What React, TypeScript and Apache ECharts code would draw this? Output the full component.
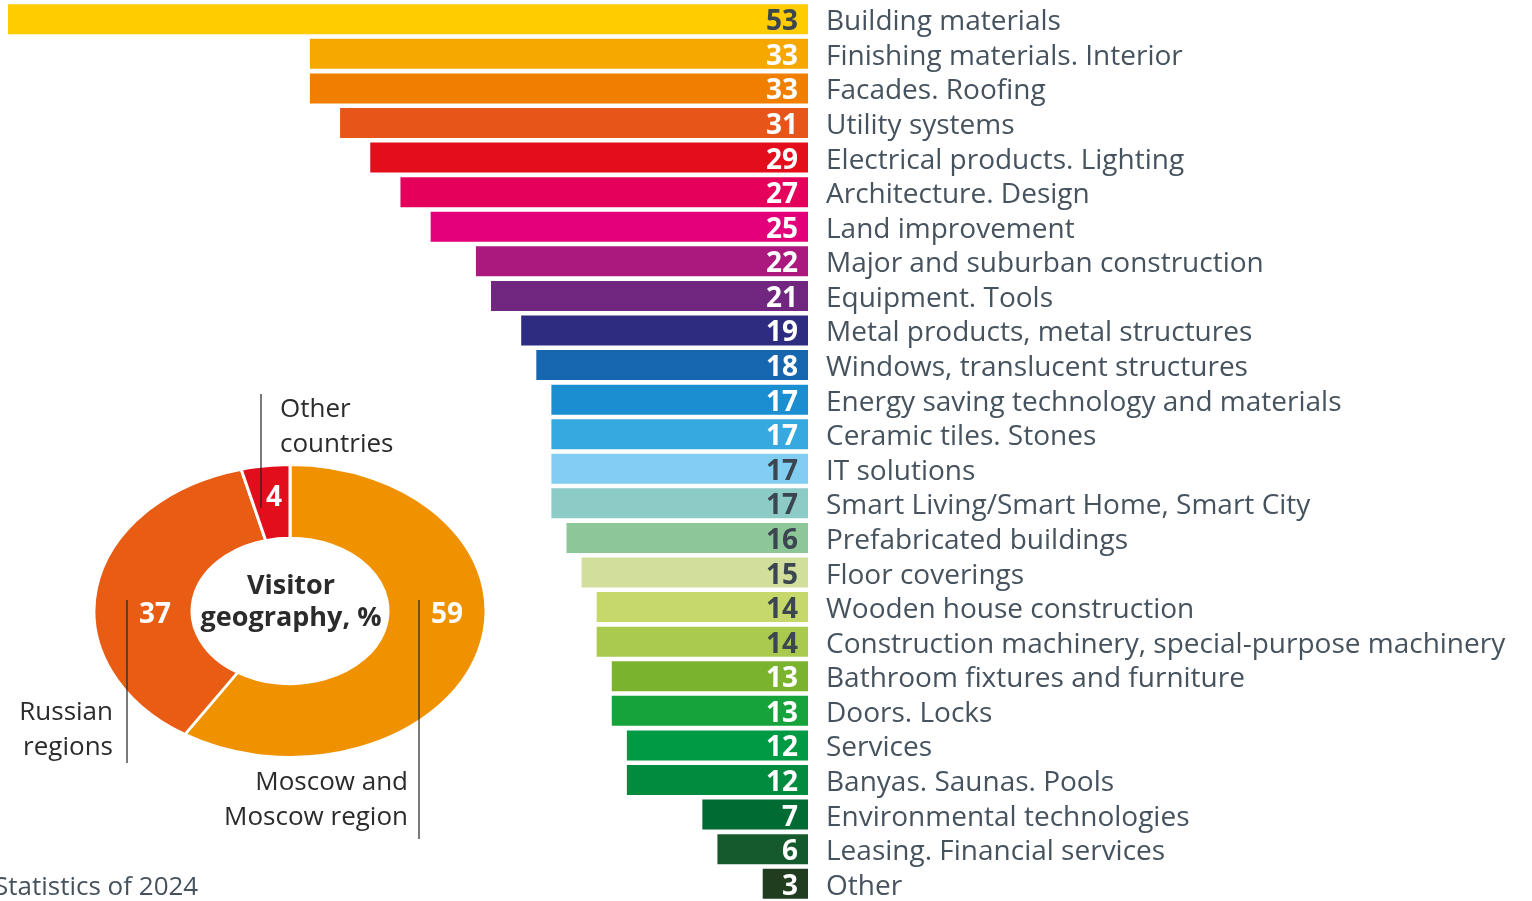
import React, { useEffect, useRef } from "react";
import * as echarts from "echarts";

const categories = [
  "Building materials",
  "Finishing materials. Interior",
  "Facades. Roofing",
  "Utility systems",
  "Electrical products. Lighting",
  "Architecture. Design",
  "Land improvement",
  "Major and suburban construction",
  "Equipment. Tools",
  "Metal products, metal structures",
  "Windows, translucent structures",
  "Energy saving technology and materials",
  "Ceramic tiles. Stones",
  "IT solutions",
  "Smart Living/Smart Home, Smart City",
  "Prefabricated buildings",
  "Floor coverings",
  "Wooden house construction",
  "Construction machinery, special-purpose machinery",
  "Bathroom fixtures and furniture",
  "Doors. Locks",
  "Services",
  "Banyas. Saunas. Pools",
  "Environmental technologies",
  "Leasing. Financial services",
  "Other",
];

const values = [53, 33, 33, 31, 29, 27, 25, 22, 21, 19, 18, 17, 17, 17, 17, 16, 15, 14, 14, 13, 13, 12, 12, 7, 6, 3];

const barColors = [
  "#ffcc00", "#f7a800", "#f07f00", "#e85518", "#e30d1b", "#e4005b", "#e2007a",
  "#ab197f", "#71267f", "#2e2c81", "#1767b0", "#1a8ed1", "#36a9e1", "#82cdf2",
  "#8ccbc6", "#8ec797", "#d2df9c", "#c6d86b", "#a9c94f", "#7ab32d", "#16a33c",
  "#009a45", "#008b3f", "#006c33", "#145a2c", "#213d1f",
];

const darkLabelIdx = [0, 13, 14, 15, 16, 17, 18];

const geoLabels = ["Moscow and\nMoscow region", "Russian\nregions", "Other\ncountries"];
const geoValues = [59, 37, 4];
const geoColors = ["#f09100", "#e85c13", "#e20e1b"];

const TEXT = "#46535e";
const DARK = "#2b2b2b";
const FONT = "'Open Sans', sans-serif";

export default function App() {
  const ref = useRef<HTMLDivElement>(null);
  useEffect(() => {
    if (!ref.current) return;
    const chart = echarts.init(ref.current, null, { renderer: "svg" });
    const total = geoValues.reduce((a, b) => a + b, 0);
    const cx = 290;
    const cy = 611;
    const R = 196;
    const R0 = 98;
    const sy = 0.745;

    const option: any = {
      animation: false,
      textStyle: { fontFamily: FONT },
      grid: { left: 8, right: 724, top: 2, height: 902, containLabel: false },
      xAxis: {
        type: "value",
        inverse: true,
        min: 0,
        max: 53,
        show: false,
      },
      yAxis: {
        type: "category",
        inverse: true,
        position: "right",
        data: categories,
        axisLine: { show: false },
        axisTick: { show: false },
        splitLine: { show: false },
        axisLabel: {
          interval: 0,
          margin: 18,
          align: "left",
          color: TEXT,
          fontSize: 28,
          lineHeight: 24,
          fontFamily: FONT,
          padding: [4, 0, 0, 0],
        },
      },
      series: [
        {
          type: "bar",
          data: values.map((v, i) => ({
            value: v,
            itemStyle: { color: barColors[i] },
            label: { color: darkLabelIdx.includes(i) ? "#3b4650" : "#ffffff" },
          })),
          barWidth: 30,
          label: {
            show: true,
            position: "insideRight",
            distance: 10,
            fontSize: 28,
            lineHeight: 26,
            fontWeight: "bold",
            fontFamily: FONT,
          },
        },
        {
          type: "custom",
          coordinateSystem: "none",
          data: geoValues.map((v, i) => [v, i]),
          renderItem: (params: any, api: any) => {
            const idx = params.dataIndex;
            let cum = 0;
            for (let k = 0; k < idx; k++) cum += geoValues[k];
            const v = api.value(0);
            const start = -Math.PI / 2 + (2 * Math.PI * cum) / total;
            const end = start + (2 * Math.PI * v) / total;
            return {
              type: "sector",
              x: 0,
              y: cy,
              scaleY: sy,
              shape: { cx, cy: 0, r: R, r0: R0, startAngle: start, endAngle: end, clockwise: true },
              style: { fill: geoColors[idx], stroke: "#ffffff", lineWidth: 3 },
            };
          },
          z: 5,
        },
      ],
      graphic: [
        {
          type: "text",
          x: 291,
          y: 583,
          style: { text: "Visitor", fill: DARK, font: `bold 27px ${FONT}`, lineHeight: 28, align: "center", verticalAlign: "middle" },
          z: 10,
        },
        {
          type: "text",
          x: 291,
          y: 615,
          style: { text: "geography, %", fill: DARK, font: `bold 27px ${FONT}`, lineHeight: 28, align: "center", verticalAlign: "middle" },
          z: 10,
        },
        {
          type: "text",
          x: 447,
          y: 612,
          style: { text: String(geoValues[0]), fill: "#ffffff", font: `bold 28px ${FONT}`, align: "center", verticalAlign: "middle" },
          z: 10,
        },
        {
          type: "text",
          x: 155,
          y: 612,
          style: { text: String(geoValues[1]), fill: "#ffffff", font: `bold 28px ${FONT}`, align: "center", verticalAlign: "middle" },
          z: 10,
        },
        {
          type: "text",
          x: 274,
          y: 495,
          style: { text: String(geoValues[2]), fill: "#ffffff", font: `bold 28px ${FONT}`, align: "center", verticalAlign: "middle" },
          z: 10,
        },
        { type: "line", shape: { x1: 261, y1: 394, x2: 261, y2: 508 }, style: { stroke: "#222", lineWidth: 1.2 }, z: 11 },
        { type: "line", shape: { x1: 127, y1: 600, x2: 127, y2: 763 }, style: { stroke: "#222", lineWidth: 1.2 }, z: 11 },
        { type: "line", shape: { x1: 419, y1: 600, x2: 419, y2: 839 }, style: { stroke: "#222", lineWidth: 1.2 }, z: 11 },
        {
          type: "text",
          x: 280,
          y: 424,
          style: { text: geoLabels[2], fill: DARK, font: `26px ${FONT}`, lineHeight: 35, align: "left", verticalAlign: "middle" },
          z: 10,
        },
        {
          type: "text",
          x: 113,
          y: 727,
          style: { text: geoLabels[1], fill: DARK, font: `26px ${FONT}`, lineHeight: 35, align: "right", verticalAlign: "middle" },
          z: 10,
        },
        {
          type: "text",
          x: 408,
          y: 797,
          style: { text: geoLabels[0], fill: DARK, font: `26px ${FONT}`, lineHeight: 35, align: "right", verticalAlign: "middle" },
          z: 10,
        },
        {
          type: "text",
          x: -6,
          y: 885,
          style: { text: "Statistics of 2024", fill: TEXT, font: `26px ${FONT}`, align: "left", verticalAlign: "middle" },
          z: 10,
        },
      ],
    };
    chart.setOption(option);
    return () => chart.dispose();
  }, []);
  return <div ref={ref} style={{ position: "fixed", left: 0, top: 0, width: 1532, height: 901 }} />;
}
